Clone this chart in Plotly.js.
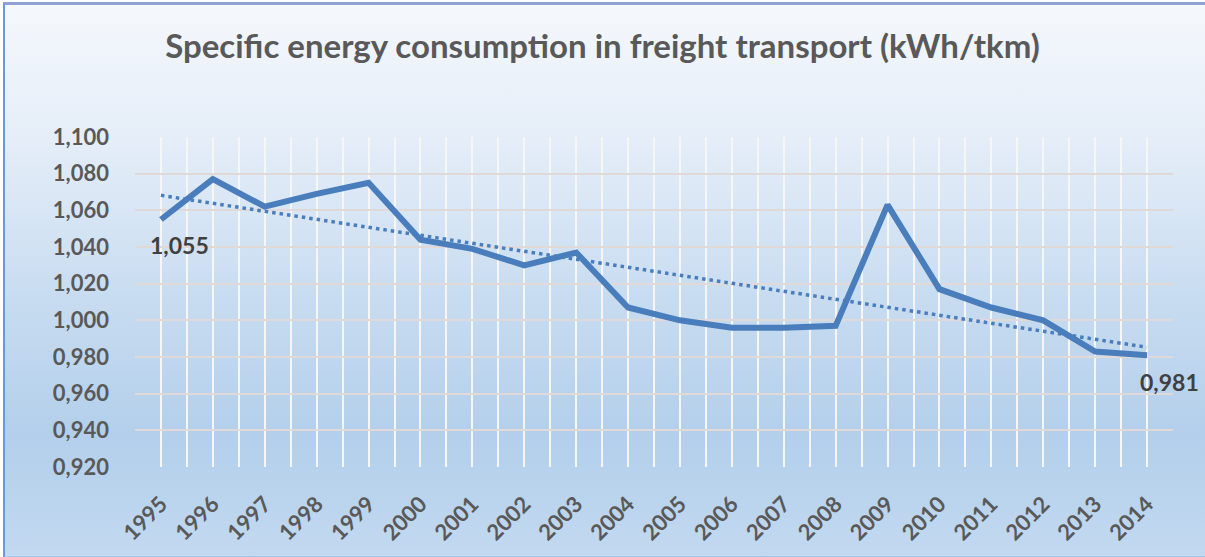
<!DOCTYPE html>
<html>
<head>
<meta charset="utf-8">
<script src="https://cdn.plot.ly/plotly-3.0.1.min.js"></script>
<style>
  html, body { margin: 0; padding: 0; width: 1205px; height: 557px; overflow: hidden; background: #ffffff; }
  #bg {
    position: absolute; left: 3px; top: 2px; width: 1210px; height: 551px;
    border-top: 3px solid #8fa2d2; border-left: 2px solid #6c98d8; border-bottom: 2px solid #9fcaf2;
    background: linear-gradient(to bottom, #f5f8fc 0%, #e4edf8 25%, #c6dbf0 55%, #b3cfeb 78%, #c2d9f0 100%);
  }
  #chart { position: absolute; left: 0; top: 0; width: 1205px; height: 557px; }
</style>
</head>
<body>
<div id="bg"></div>
<div id="chart"></div>
<script>
const years = ["1995","1996","1997","1998","1999","2000","2001","2002","2003","2004",
               "2005","2006","2007","2008","2009","2010","2011","2012","2013","2014"];
const consumption = [1.055, 1.077, 1.062, 1.069, 1.075, 1.044, 1.039, 1.030, 1.037, 1.007,
                     1.000, 0.996, 0.996, 0.997, 1.063, 1.017, 1.007, 1.000, 0.983, 0.981];
const yTicks = [0.92, 0.94, 0.96, 0.98, 1.00, 1.02, 1.04, 1.06, 1.08, 1.10];
const titleText = "Specific energy consumption in freight transport (kWh/tkm)";

// positions of categories on the axis
const xs = years.map((y, i) => i);

// linear trendline (least squares) like Excel's
const n = xs.length;
const mx = xs.reduce((a, b) => a + b, 0) / n;
const my = consumption.reduce((a, b) => a + b, 0) / n;
let sxy = 0, sxx = 0;
for (let i = 0; i < n; i++) { sxy += (xs[i] - mx) * (consumption[i] - my); sxx += (xs[i] - mx) ** 2; }
const slope = sxy / sxx, intercept = my - slope * mx;
const trend = xs.map(x => intercept + slope * x);

// gridlines at category centres and boundaries; labels only on centres
const tickVals = [], tickText = [];
for (let i = 0; i <= n; i++) {
  tickVals.push(i - 0.5); tickText.push("");
  if (i < n) { tickVals.push(i); tickText.push(years[i]); }
}

const fmt = v => v.toFixed(3).replace(".", ",");
const blue = "#4a7dbb";

const traces = [
  { x: xs, y: consumption, type: "scatter", mode: "lines",
    line: { color: blue, width: 6 }, hoverinfo: "skip", showlegend: false },
  { x: xs, y: trend, type: "scatter", mode: "lines",
    line: { color: blue, width: 3.5, dash: "3.5px,4px" }, hoverinfo: "skip", showlegend: false }
];

const labelFont = { family: "Lato, 'Open Sans', sans-serif", size: 23, color: "#404040", weight: 700 };
const annotations = [
  { x: xs[0], y: consumption[0], text: fmt(consumption[0]), showarrow: false,
    xshift: 19, yshift: -25, font: labelFont },
  { x: xs[n - 1], y: consumption[n - 1], text: fmt(consumption[n - 1]), showarrow: false,
    xshift: 22, yshift: -27, font: labelFont }
];

const tickFont = { family: "Lato, 'Open Sans', sans-serif", size: 22, color: "#595959", weight: 700 };

const layout = {
  width: 1205, height: 557,
  paper_bgcolor: "rgba(0,0,0,0)", plot_bgcolor: "rgba(0,0,0,0)",
  margin: { l: 135, r: 32, t: 137, b: 90, pad: 0 },
  separators: ",.",
  title: { text: titleText, x: 0.5, xanchor: "center", y: 0.916, yanchor: "middle",
           font: { family: "Lato, 'Open Sans', sans-serif", size: 33, color: "#595959", weight: 700 } },
  xaxis: {
    range: [-0.5, n - 0.5], tickmode: "array", tickvals: tickVals, ticktext: tickText,
    tickangle: -45, ticks: "", ticklabelstandoff: 19, tickfont: tickFont,
    showgrid: true, gridcolor: "#f6f6f6", gridwidth: 2, zeroline: false, showline: false,
    fixedrange: true
  },
  yaxis: {
    range: [0.92, 1.10], tickmode: "array", tickvals: yTicks, tickformat: ".3f",
    ticks: "", ticklabelstandoff: 25, tickfont: tickFont,
    showgrid: true, gridcolor: "#e0d9d8", gridwidth: 2, zeroline: false, showline: false,
    fixedrange: true
  },
  annotations: annotations
};

Plotly.newPlot("chart", traces, layout, { displayModeBar: false, staticPlot: true });
</script>
</body>
</html>
